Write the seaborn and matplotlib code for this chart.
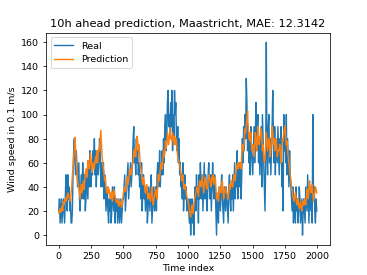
import numpy as np
import pandas as pd
import matplotlib
matplotlib.use("Agg")
import matplotlib.pyplot as plt
import seaborn as sns

step = 5  # time-index spacing between the sampled values below

real = [
    20, 30, 10, 20, 30, 10, 20, 30, 20, 10, 30, 50, 40, 20, 50, 30, 40, 20, 30, 10,
    10, 20, 50, 70, 80, 60, 50, 70, 60, 40, 50, 60, 30, 20, 40, 50, 30, 60, 40, 30,
    50, 20, 30, 50, 40, 30, 60, 40, 70, 50, 40, 60, 50, 70, 60, 80, 50, 70, 40, 60,
    70, 50, 60, 80, 70, 40, 60, 50, 40, 60, 30, 50, 40, 20, 30, 40, 20, 10, 30, 20,
    30, 10, 20, 40, 30, 20, 40, 10, 30, 20, 30, 10, 20, 30, 10, 20, 30, 10, 20, 30,
    30, 40, 50, 20, 30, 40, 50, 60, 30, 40, 50, 60, 40, 50, 60, 80, 90, 60, 70, 50,
    80, 60, 70, 50, 60, 40, 50, 30, 60, 20, 40, 50, 30, 40, 20, 30, 40, 10, 20, 40,
    30, 20, 40, 50, 10, 20, 30, 40, 20, 30, 40, 20, 50, 60, 40, 50, 70, 40, 60, 50,
    70, 50, 80, 60, 90, 100, 70, 80, 110, 120, 90, 100, 80, 110, 90, 120, 70, 100, 80, 120,
    100, 110, 80, 70, 90, 60, 80, 50, 60, 40, 50, 30, 60, 20, 40, 50, 30, 40, 20, 30,
    30, 20, 10, 30, 0, 20, 30, 10, 20, 0, 30, 40, 20, 50, 30, 40, 10, 50, 30, 60,
    40, 30, 50, 20, 40, 60, 30, 50, 40, 20, 30, 50, 60, 40, 30, 50, 20, 40, 60, 40,
    30, 50, 40, 20, 0, 30, 20, 10, 40, 30, 20, 40, 50, 30, 20, 10, 40, 30, 20, 40,
    30, 20, 10, 40, 50, 30, 20, 40, 30, 50, 20, 40, 60, 30, 50, 40, 70, 30, 50, 60,
    40, 60, 30, 50, 80, 60, 90, 70, 100, 80, 130, 110, 70, 90, 60, 80, 50, 90, 70, 60,
    50, 70, 90, 60, 80, 110, 70, 90, 100, 60, 80, 50, 70, 90, 40, 100, 80, 60, 40, 20,
    60, 160, 70, 50, 90, 100, 60, 80, 50, 70, 90, 120, 80, 60, 90, 50, 80, 70, 60, 90,
    70, 50, 80, 60, 90, 40, 60, 20, 100, 70, 90, 60, 100, 50, 80, 60, 40, 70, 50, 40,
    30, 20, 40, 10, 30, 20, 10, 40, 20, 30, 10, 20, 40, 30, 10, 20, 30, 0, 20, 30,
    20, 10, 40, 30, 20, 50, 30, 10, 40, 30, 20, 40, 10, 100, 30, 40, 20, 10, 30, 20,
]

prediction = [
    18, 20, 22, 19, 21, 24, 20, 28, 25, 27, 30, 28, 32, 30, 35, 33, 32, 30, 28, 35,
    40, 50, 55, 65, 70, 81, 72, 60, 55, 45, 42, 40, 35, 30, 38, 42, 35, 40, 45, 38,
    45, 50, 55, 48, 52, 62, 58, 55, 60, 68, 62, 52, 55, 60, 58, 55, 62, 65, 60, 70,
    60, 68, 72, 70, 78, 87, 75, 65, 60, 55, 50, 45, 48, 40, 35, 38, 40, 35, 38, 32,
    30, 35, 36, 28, 32, 38, 35, 32, 30, 27, 28, 30, 25, 24, 28, 26, 28, 23, 25, 30,
    35, 38, 40, 36, 38, 45, 48, 42, 45, 50, 55, 52, 50, 55, 58, 62, 70, 65, 72, 65,
    75, 82, 78, 70, 75, 68, 58, 55, 50, 45, 42, 48, 45, 38, 35, 40, 42, 35, 30, 32,
    35, 30, 28, 35, 40, 32, 25, 28, 32, 35, 38, 32, 30, 40, 50, 45, 48, 55, 60, 55,
    55, 62, 70, 65, 68, 78, 72, 75, 85, 80, 75, 82, 89, 80, 82, 78, 85, 80, 75, 82,
    75, 80, 78, 70, 65, 62, 60, 58, 55, 50, 45, 48, 50, 42, 38, 42, 40, 35, 32, 30,
    28, 25, 20, 18, 15, 20, 25, 22, 18, 25, 30, 32, 35, 38, 40, 36, 32, 40, 45, 42,
    40, 45, 50, 42, 35, 40, 48, 45, 42, 38, 40, 45, 50, 48, 45, 40, 42, 48, 45, 50,
    42, 45, 48, 40, 30, 35, 32, 28, 35, 40, 38, 35, 42, 45, 38, 30, 35, 38, 40, 35,
    35, 32, 30, 35, 42, 38, 40, 45, 42, 40, 45, 50, 48, 45, 52, 58, 55, 60, 55, 58,
    60, 58, 55, 65, 75, 72, 70, 80, 88, 85, 92, 95, 103, 90, 80, 85, 78, 85, 75, 70,
    75, 70, 65, 75, 85, 80, 70, 78, 90, 85, 75, 80, 82, 88, 80, 70, 75, 65, 60, 62,
    75, 85, 80, 70, 75, 80, 75, 65, 70, 80, 90, 85, 75, 80, 70, 72, 80, 75, 65, 70,
    70, 72, 75, 65, 60, 70, 80, 78, 85, 88, 91, 82, 75, 78, 70, 65, 60, 55, 50, 45,
    40, 38, 32, 30, 28, 32, 35, 30, 25, 28, 30, 25, 22, 25, 28, 22, 20, 25, 28, 25,
    30, 28, 25, 32, 38, 35, 30, 40, 45, 38, 35, 40, 42, 35, 28, 32, 35, 40, 38, 35,
]

title = "10h ahead prediction, Maastricht, MAE: 12.3142"
x_label = "Time index"
y_label = "Wind speed in 0.1 m/s"

time_index = np.arange(len(real)) * step
df = pd.DataFrame({"time": time_index, "Real": real, "Prediction": prediction})

DPI = 68
fig, ax = plt.subplots(figsize=(367 / DPI, 275.4 / DPI), dpi=DPI)
sns.lineplot(data=df, x="time", y="Real", ax=ax, color="#1f77b4", label="Real")
sns.lineplot(data=df, x="time", y="Prediction", ax=ax, color="#ff7f0e", label="Prediction")
ax.set_title(title)
ax.set_xlabel(x_label)
ax.set_ylabel(y_label)
ax.set_xlim(-100, 2100)
ax.set_yticks(range(0, 161, 20))
ax.legend(loc="upper left")
fig.savefig("out.png", dpi=DPI)
